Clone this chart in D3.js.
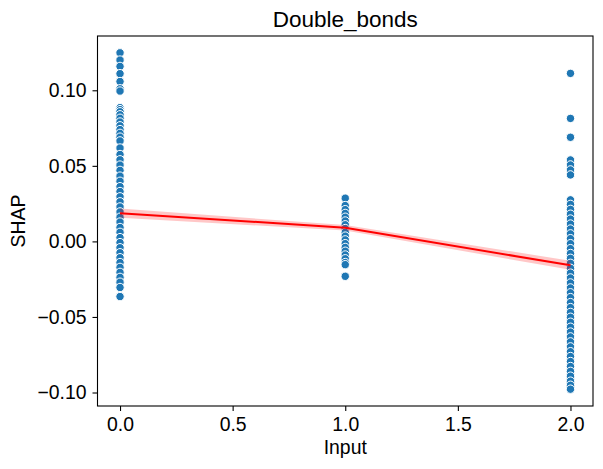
<!DOCTYPE html>
<html>
<head>
<meta charset="utf-8">
<script src="https://cdn.jsdelivr.net/npm/d3@7"></script>
<style>
  html, body { margin: 0; padding: 0; background: #fff; }
  svg { display: block; font-family: "Liberation Sans", Arial, sans-serif; }
</style>
</head>
<body>
<svg id="chart" width="603" height="469"></svg>
<script>
// x categories (Input values)
var inputs = [0, 1, 2];

// SHAP values per input
var shapAt0 = [0.1248, 0.1200, 0.1158, 0.1110, 0.1058, 0.1010, 0.0995,
    0.0885, 0.0872, 0.0858, 0.0838, 0.0815, 0.0790, 0.0765, 0.0740, 0.0715, 0.0690, 0.0665,
    0.0618, 0.0575, 0.0540, 0.0505, 0.0470, 0.0432, 0.0398, 0.0362, 0.0330, 0.0295, 0.0262,
    0.0228, 0.0195, 0.0160, 0.0128, 0.0092, 0.0060, 0.0025, -0.0008, -0.0042, -0.0075, -0.0108,
    -0.0140, -0.0172, -0.0205, -0.0238, -0.0270, -0.0305, -0.0365];
var shapAt1 = [0.0286, 0.0237, 0.0210, 0.0185, 0.0160, 0.0135, 0.0110, 0.0085, 0.0060, 0.0035,
    0.0010, -0.0015, -0.0040, -0.0065, -0.0090, -0.0115, -0.0140, -0.0154, -0.0231];
var shapAt2 = [0.1112, 0.0814, 0.0689, 0.0539, 0.0506, 0.0473, 0.0440, 0.0275, 0.0245, 0.0212,
    0.0180, 0.0148, 0.0115, 0.0082, 0.0050, 0.0018, -0.0015, -0.0048, -0.0080, -0.0112, -0.0145,
    -0.0178, -0.0210, -0.0242, -0.0275, -0.0308, -0.0340, -0.0372, -0.0405, -0.0438, -0.0470,
    -0.0502, -0.0535, -0.0568, -0.0600, -0.0632, -0.0665, -0.0698, -0.0730, -0.0762, -0.0795,
    -0.0828, -0.0860, -0.0892, -0.0925, -0.0952, -0.0978];

// mean line and its confidence band
var meanLine = [0.0187, 0.0090, -0.0158];
var bandLow = [0.0157, 0.0072, -0.0188];
var bandHigh = [0.0217, 0.0108, -0.0128];

var xTicks = [0, 0.5, 1, 1.5, 2];
var yTicks = [-0.10, -0.05, 0, 0.05, 0.10];

var svg = d3.select("#chart");
var margin = {left: 97.5, right: 10, top: 36, bottom: 63};
var width = 603 - margin.left - margin.right;
var height = 469 - margin.top - margin.bottom;

var points = [];
[shapAt0, shapAt1, shapAt2].forEach(function (vals, i) {
    vals.forEach(function (v) { points.push({x: inputs[i], y: v}); });
});

// matplotlib style 5% margins
var yExt = d3.extent(points, function (d) { return d.y; });
var yPad = (yExt[1] - yExt[0]) * 0.05;
var xPad = (inputs[2] - inputs[0]) * 0.05;

var x = d3.scaleLinear().domain([inputs[0] - xPad, inputs[2] + xPad]).range([0, width]);
var y = d3.scaleLinear().domain([yExt[0] - yPad, yExt[1] + yPad]).range([height, 0]);

var g = svg.append("g").attr("transform", "translate(" + margin.left + "," + margin.top + ")");

// scatter
g.append("g").selectAll("circle")
    .data(points)
    .enter().append("circle")
    .attr("cx", function (d) { return x(d.x); })
    .attr("cy", function (d) { return y(d.y); })
    .attr("r", 4.2)
    .attr("fill", "#1f77b4")
    .attr("stroke", "#fff")
    .attr("stroke-width", 1);

// confidence band + mean line
var bandData = inputs.map(function (v, i) { return {x: v, lo: bandLow[i], hi: bandHigh[i], m: meanLine[i]}; });
g.append("path")
    .datum(bandData)
    .attr("fill", "rgba(255,0,0,0.22)")
    .attr("d", d3.area()
        .x(function (d) { return x(d.x); })
        .y0(function (d) { return y(d.lo); })
        .y1(function (d) { return y(d.hi); }));
g.append("path")
    .datum(bandData)
    .attr("fill", "none")
    .attr("stroke", "#ff0000")
    .attr("stroke-width", 2)
    .attr("d", d3.line()
        .x(function (d) { return x(d.x); })
        .y(function (d) { return y(d.m); }));

// axes
var xAxis = g.append("g")
    .attr("transform", "translate(0," + height + ")")
    .call(d3.axisBottom(x).tickValues(xTicks).tickFormat(d3.format(".1f")).tickSizeOuter(0).tickSize(5).tickPadding(6));
var yAxis = g.append("g")
    .call(d3.axisLeft(y).tickValues(yTicks).tickFormat(d3.format(".2f")).tickSizeOuter(0).tickSize(5).tickPadding(6));

[xAxis, yAxis].forEach(function (a) {
    a.select(".domain").remove();
    a.selectAll(".tick line").attr("stroke", "#000").attr("stroke-width", 1.1);
    a.selectAll(".tick text").attr("fill", "#000").style("font-size", "19.4px")
        .style("font-family", "'Liberation Sans', Arial, sans-serif");
});

// frame
g.append("rect")
    .attr("x", 0).attr("y", 0)
    .attr("width", width).attr("height", height)
    .attr("fill", "none")
    .attr("stroke", "#000")
    .attr("stroke-width", 1.1);

// labels
svg.append("text")
    .attr("x", margin.left + width / 2).attr("y", 27)
    .attr("text-anchor", "middle")
    .style("font-size", "22.5px")
    .text("Double_bonds");
svg.append("text")
    .attr("x", margin.left + width / 2).attr("y", 454)
    .attr("text-anchor", "middle")
    .style("font-size", "19.4px")
    .text("Input");
svg.append("text")
    .attr("transform", "translate(25," + (margin.top + height / 2) + ") rotate(-90)")
    .attr("text-anchor", "middle")
    .style("font-size", "19.4px")
    .text("SHAP");
</script>
</body>
</html>
